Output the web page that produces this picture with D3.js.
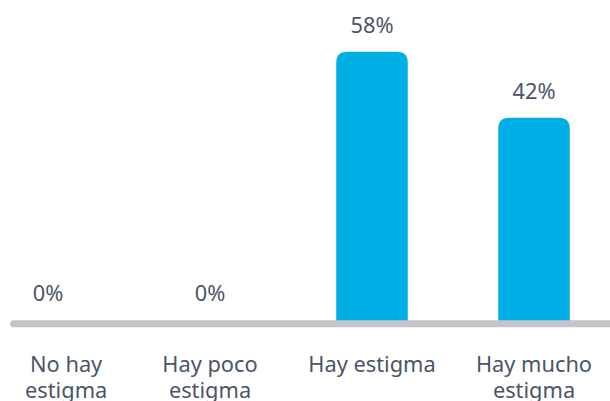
<!DOCTYPE html>
<html>
<head>
<meta charset="utf-8">
<script src="https://cdn.jsdelivr.net/npm/d3@7"></script>
<style>
  html, body { margin: 0; padding: 0; background: #ffffff; }
  svg { display: block; }
  text { font-family: "Noto Sans", "Open Sans", sans-serif; }
</style>
</head>
<body>
<svg id="chart" width="610" height="401"></svg>
<script>
// ---- data ----
const categories = ["No hay estigma", "Hay poco estigma", "Hay estigma", "Hay mucho estigma"];
const values = [0, 0, 58, 42];
const valueLabels = ["0%", "0%", "58%", "42%"];
const yDomain = [-7, 58];

// ---- layout ----
const W = 610, H = 401;
const baseY = 320;
const topY = 51.7;
const barColor = "#00aee6";
const textColor = "#4a5668";
const axisColor = "#c5c4c9";
const fontSize = 21.8;
const labelMargin = 25;

const svg = d3.select("#chart");

const x = d3.scaleBand()
  .domain(categories)
  .range([-33, 615])
  .paddingInner(0.5586)
  .paddingOuter(0.2793);

const y = d3.scaleLinear().domain(yDomain).range([baseY, topY]);

const data = categories.map((c, i) => ({ cat: c, value: values[i], label: valueLabels[i] }));

function topRoundedRect(x0, y0, w, h, r) {
  r = Math.min(r, h, w / 2);
  return `M${x0},${y0 + h}V${y0 + r}Q${x0},${y0} ${x0 + r},${y0}H${x0 + w - r}Q${x0 + w},${y0} ${x0 + w},${y0 + r}V${y0 + h}Z`;
}

// bars
svg.append("g").selectAll("path")
  .data(data.filter(d => d.value > 0))
  .join("path")
  .attr("d", d => {
    const yt = y(d.value);
    return topRoundedRect(x(d.cat), yt, x.bandwidth(), baseY + 2 - yt, 11);
  })
  .attr("fill", barColor);

// baseline
svg.append("line")
  .attr("x1", 13.5).attr("x2", W + 10)
  .attr("y1", baseY + 3.7).attr("y2", baseY + 3.7)
  .attr("stroke", axisColor)
  .attr("stroke-width", 7)
  .attr("stroke-linecap", "round");

// value labels
svg.append("g").selectAll("text")
  .data(data)
  .join("text")
  .attr("x", d => x(d.cat) + x.bandwidth() / 2)
  .attr("y", d => (d.value > 0 ? y(d.value) : baseY) - 19)
  .attr("text-anchor", "middle")
  .attr("font-size", fontSize)
  .attr("fill", textColor)
  .text(d => d.label);

// category labels (wrapped, kept inside a left margin)
const maxW = 140;
const catG = svg.append("g");
data.forEach(d => {
  const cx = x(d.cat) + x.bandwidth() / 2;
  const t = catG.append("text")
    .attr("x", cx)
    .attr("y", 371.5)
    .attr("text-anchor", "middle")
    .attr("font-size", fontSize)
    .attr("fill", textColor);
  const words = d.cat.split(" ");
  let line = [];
  let tspan = t.append("tspan").attr("x", cx).attr("dy", 0);
  words.forEach(w => {
    line.push(w);
    tspan.text(line.join(" "));
    if (tspan.node().getComputedTextLength() > maxW && line.length > 1) {
      line.pop();
      tspan.text(line.join(" "));
      line = [w];
      tspan = t.append("tspan").attr("x", cx).attr("dy", 26).text(w);
    }
  });
  const spans = t.selectAll("tspan").nodes();
  const widest = d3.max(spans, n => n.getComputedTextLength());
  const nx = Math.max(cx, labelMargin + widest / 2);
  t.selectAll("tspan").attr("x", nx);
});
</script>
</body>
</html>
